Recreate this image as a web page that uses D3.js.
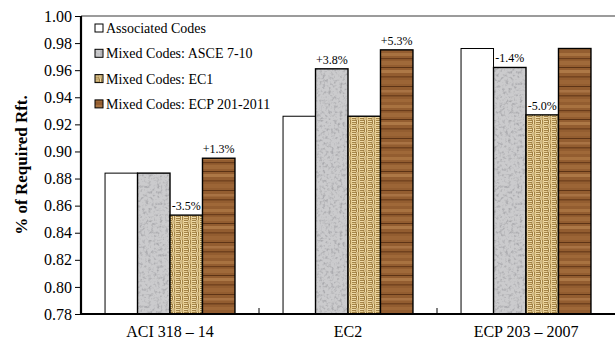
<html>
<head>
  <meta charset="utf-8" />
  <script src="https://cdnjs.cloudflare.com/ajax/libs/d3/7.8.5/d3.min.js"></script>
  <style>
    body { margin: 0; background: #fff; }
    svg text { font-family: "Liberation Serif", "Times New Roman", serif !important; }
  </style>
</head>
<body>
  <svg id="chart" width="615" height="346"></svg>
<script>

  var categories = ["ACI 318 \u2013 14", "EC2", "ECP 203 \u2013 2007"];
  var seriesNames = ["Associated Codes", "Mixed Codes: ASCE 7-10",
                     "Mixed Codes: EC1", "Mixed Codes: ECP 201-2011"];
  // one array per series, values per category
  var associated = [0.884, 0.926, 0.976];
  var asce = [0.884, 0.961, 0.962];
  var ec1 = [0.853, 0.926, 0.927];
  var ecp201 = [0.895, 0.975, 0.976];
  // change labels printed over the bars
  var asceLabels = [null, "+3.8%", "-1.4%"];
  var ec1Labels = ["-3.5%", null, "-5.0%"];
  var ecp201Labels = ["+1.3%", "+5.3%", null];
  var yTicks = [0.78, 0.80, 0.82, 0.84, 0.86, 0.88, 0.90, 0.92, 0.94, 0.96, 0.98, 1.00];

  var series = [
    {name: seriesNames[0], values: associated, labels: [null, null, null], fill: "#ffffff"},
    {name: seriesNames[1], values: asce, labels: asceLabels, fill: "url(#granite)"},
    {name: seriesNames[2], values: ec1, labels: ec1Labels, fill: "url(#weave)"},
    {name: seriesNames[3], values: ecp201, labels: ecp201Labels, fill: "url(#wood)"}
  ];

  var svg = d3.select("#chart");
  var mLeft = 81, mRight = 615, mTop = 16, mBottom = 314;

  // ---- textures ----
  var defs = svg.append("defs");

  // granite: mottled gray noise
  var fg = defs.append("filter").attr("id", "graniteF")
    .attr("x", 0).attr("y", 0).attr("width", 1).attr("height", 1);
  fg.append("feTurbulence").attr("type", "fractalNoise")
    .attr("baseFrequency", 0.35).attr("numOctaves", 2).attr("seed", 4).attr("result", "n");
  fg.append("feColorMatrix").attr("in", "n").attr("type", "matrix")
    .attr("values", "0 0 0 0 0.4  0 0 0 0 0.4  0 0 0 0 0.42  -3 0 0 0 1.6").attr("result", "d");
  fg.append("feComposite").attr("in", "d").attr("in2", "SourceGraphic").attr("operator", "over");
  var pg = defs.append("pattern").attr("id", "granite")
    .attr("patternUnits", "userSpaceOnUse").attr("width", 120).attr("height", 120);
  pg.append("rect").attr("width", 120).attr("height", 120)
    .attr("fill", "#cbcbcd").attr("filter", "url(#graniteF)");

  // woven tan
  var pw = defs.append("pattern").attr("id", "weave")
    .attr("patternUnits", "userSpaceOnUse").attr("width", 8).attr("height", 8);
  pw.append("rect").attr("width", 8).attr("height", 8).attr("fill", "#e6cd92");
  var wl = pw.append("g").attr("stroke", "#9c7a3e").attr("stroke-width", 0.9).attr("fill", "none");
  wl.append("path").attr("d", "M0,0.5H4 M0,2.5H4 M4,4V8 M6,4V8 M4.5,0V4 M6.5,0V4 M0,4.5H4 M0,6.5H4");
  wl.append("path").attr("stroke", "#f6e8bd").attr("stroke-width", 0.6)
    .attr("d", "M0,1.5H4 M5,4V8 M5.5,0V4 M0,5.5H4");

  // wood: horizontal grain bands
  var pwd = defs.append("pattern").attr("id", "wood")
    .attr("patternUnits", "userSpaceOnUse").attr("width", 40).attr("height", 52);
  pwd.append("rect").attr("width", 40).attr("height", 52).attr("fill", "#935d30");
  var grain = [[1, 3, "#a87240"], [6, 1.2, "#6a3c1b"], [9, 4, "#a06a3a"], [15, 1, "#5c3315"],
               [18, 3, "#ad7846"], [24, 1.6, "#764520"], [28, 4, "#9c6536"], [34, 1, "#5e3416"],
               [38, 2.5, "#a97344"], [43, 1.5, "#70411e"], [47, 3, "#9f6838"]];
  pwd.selectAll("rect.g").data(grain).enter().append("rect")
    .attr("x", 0).attr("width", 40)
    .attr("y", d => d[0]).attr("height", d => d[1]).attr("fill", d => d[2]);

  // ---- scales ----
  var x0 = d3.scaleBand().domain(categories).range([mLeft, mRight]);
  var x1 = d3.scaleBand().domain(d3.range(series.length))
    .range([0, x0.bandwidth()]).paddingOuter(0.74);
  var y = d3.scaleLinear().domain([0.78, 1.00]).range([mBottom, mTop]);

  // top border
  svg.append("line").attr("x1", mLeft).attr("x2", mRight)
    .attr("y1", mTop).attr("y2", mTop)
    .attr("stroke", "#7a7a7a").attr("stroke-width", 1.5);

  // ---- bars ----
  series.forEach(function(s, si) {
    var rows = s.values.map((v, i) => ({v: v, cat: categories[i], label: s.labels[i]}));
    var g = svg.append("g");
    g.selectAll("rect").data(rows).enter().append("rect")
      .attr("x", d => x0(d.cat) + x1(si))
      .attr("width", x1.bandwidth())
      .attr("y", d => y(d.v))
      .attr("height", d => y(0.78) - y(d.v))
      .attr("fill", s.fill)
      .attr("stroke", "#000").attr("stroke-width", si === 0 ? 1 : 1.4);
    g.selectAll("text").data(rows.filter(d => d.label)).enter().append("text")
      .attr("x", d => x0(d.cat) + x1(si) + x1.bandwidth() / 2)
      .attr("y", d => y(d.v) - 5)
      .attr("text-anchor", "middle")
      .attr("font-size", 12)
      .text(d => d.label);
  });

  // ---- axes ----
  var yAxis = d3.axisLeft(y).tickValues(yTicks).tickFormat(d3.format(".2f"))
    .tickSize(6).tickPadding(3);
  var yg = svg.append("g").attr("transform", "translate(" + mLeft + ",0)").call(yAxis);
  yg.select(".domain").attr("stroke-width", 2.2).attr("d", "M0," + mTop + "V" + (mBottom + 1));
  yg.selectAll(".tick text").attr("font-size", 16).attr("fill", "#000");

  var xAxis = d3.axisBottom(x0).tickSize(0).tickPadding(12);
  var xg = svg.append("g").attr("transform", "translate(0," + mBottom + ")").call(xAxis);
  xg.select(".domain").attr("stroke-width", 2.2).attr("d", "M" + (mLeft - 1) + ",0H" + mRight);
  xg.selectAll(".tick text").attr("font-size", 16).attr("fill", "#000");
  // category separators
  xg.selectAll(".sep").data(categories.slice(1)).enter().append("line")
    .attr("x1", d => x0(d)).attr("x2", d => x0(d))
    .attr("y1", 0).attr("y2", -6).attr("stroke", "#000");

  svg.append("text")
    .attr("transform", "translate(27," + ((mTop + mBottom) / 2) + ") rotate(-90)")
    .attr("text-anchor", "middle")
    .attr("font-size", 17).attr("font-weight", "bold")
    .text("% of Required Rft.");

  // ---- legend ----
  var lg = svg.append("g").attr("transform", "translate(95,28)");
  var item = lg.selectAll("g").data(series).enter().append("g")
    .attr("transform", (d, i) => "translate(0," + i * 25.3 + ")");
  item.append("rect").attr("width", 8).attr("height", 8).attr("y", -4)
    .attr("fill", d => d.fill).attr("stroke", "#000").attr("stroke-width", 1);
  item.append("text").attr("x", 11).attr("y", 5)
    .attr("font-size", 14).text(d => d.name);

</script>
</body>
</html>
